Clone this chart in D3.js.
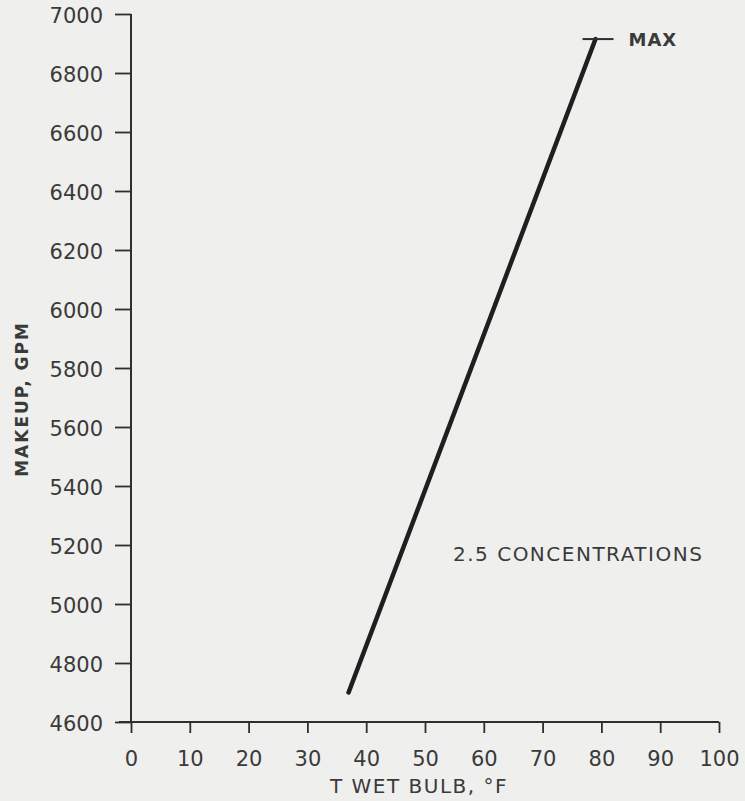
<!DOCTYPE html>
<html>
<head>
<meta charset="utf-8">
<script src="https://cdn.jsdelivr.net/npm/d3@7"></script>
<style>
  html, body { margin: 0; padding: 0; background: #efefed; }
  svg { display: block; }
  text { font-family: "DejaVu Sans", sans-serif; fill: #3a3a3a; }
</style>
</head>
<body>
<svg id="chart" width="745" height="801"></svg>
<script>
// ---- data ----
const xTicks = [0, 10, 20, 30, 40, 50, 60, 70, 80, 90, 100];
const yTicks = [4600, 4800, 5000, 5200, 5400, 5600, 5800, 6000, 6200, 6400, 6600, 6800, 7000];
const tempF = [37, 79];          // T wet bulb, °F
const makeupGPM = [4700, 6915];  // makeup, GPM
const maxLabel = "MAX";
const seriesLabel = "2.5 CONCENTRATIONS";
const xTitle = "T WET BULB, °F";
const yTitle = "MAKEUP, GPM";

// ---- layout ----
const svg = d3.select("#chart");
const x = d3.scaleLinear().domain([0, 100]).range([131, 719]);
const y = d3.scaleLinear().domain([4600, 7000]).range([722, 14]);
const ink = "#2e2e2e";

// Y axis
const yAxis = d3.axisLeft(y).tickValues(yTicks).tickSize(16).tickPadding(12).tickFormat(d3.format("d"));
const gy = svg.append("g").attr("transform", `translate(${x(0)},0)`).call(yAxis);
gy.select(".domain").remove();
gy.selectAll(".tick line").attr("stroke", ink).attr("stroke-width", 1.8);
gy.selectAll(".tick text").style("font-size", "21px").attr("fill", "#3a3a3a").attr("dy", "0.4em");
svg.append("line")
  .attr("x1", x(0)).attr("x2", x(0))
  .attr("y1", y(7000)).attr("y2", y(4600))
  .attr("stroke", ink).attr("stroke-width", 2);

// X axis
const xAxis = d3.axisBottom(x).tickValues(xTicks).tickSize(11).tickPadding(18).tickFormat(d3.format("d"));
const gx = svg.append("g").attr("transform", `translate(0,${y(4600)})`).call(xAxis);
gx.select(".domain").remove();
gx.selectAll(".tick line").attr("stroke", ink).attr("stroke-width", 1.8);
gx.selectAll(".tick text").style("font-size", "21px").attr("fill", "#3a3a3a");
svg.append("line")
  .attr("x1", x(0) - 12).attr("x2", x(100))
  .attr("y1", y(4600)).attr("y2", y(4600))
  .attr("stroke", ink).attr("stroke-width", 2);

// Axis titles
svg.append("text")
  .attr("x", 419).attr("y", 793)
  .attr("text-anchor", "middle")
  .style("font-size", "20px").style("letter-spacing", "1.5px")
  .text(xTitle);

svg.append("text")
  .attr("transform", `translate(28,399) rotate(-90)`)
  .attr("text-anchor", "middle")
  .style("font-size", "17px").style("font-weight", "bold").style("letter-spacing", "2px")
  .text(yTitle);

// Data line
const line = d3.line().x(d => x(d[0])).y(d => y(d[1]));
svg.append("path")
  .datum(d3.zip(tempF, makeupGPM))
  .attr("d", line)
  .attr("fill", "none")
  .attr("stroke", "#1f1f1f")
  .attr("stroke-width", 4.5)
  .attr("stroke-linecap", "round");

// MAX marker
const topX = x(tempF[1]), topY = y(makeupGPM[1]);
svg.append("line")
  .attr("x1", topX - 13).attr("x2", topX + 18)
  .attr("y1", topY).attr("y2", topY)
  .attr("stroke", ink).attr("stroke-width", 2);
svg.append("text")
  .attr("x", topX + 33).attr("y", topY + 6.5)
  .style("font-size", "18px").style("font-weight", "bold").style("letter-spacing", "1px")
  .text(maxLabel);

// Series label
svg.append("text")
  .attr("x", 453).attr("y", 561)
  .style("font-size", "20px").style("letter-spacing", "1.5px")
  .text(seriesLabel);
</script>
</body>
</html>
